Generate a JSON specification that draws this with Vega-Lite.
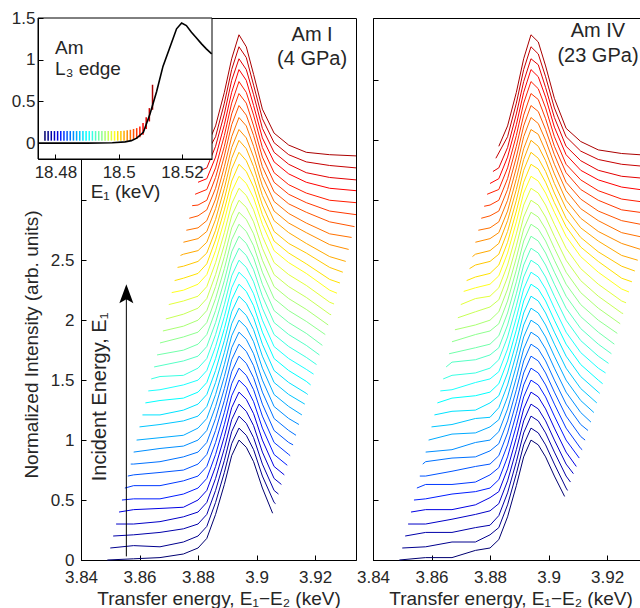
{
"$schema":"https://vega.github.io/schema/vega-lite/v6.json",
"padding":{"left":10,"top":8,"right":0,"bottom":0},
"spacing":-4,
"config":{"font":"Liberation Sans","view":{"stroke":"black","strokeWidth":1},
"axis":{"grid":false,"domainColor":"black","tickColor":"black","labelColor":"#262626","titleColor":"#262626","labelFontSize":17,"titleFontSize":19,"titleFontWeight":"normal","tickSize":-5,"labelFlush":false,"labelOverlap":false,"labelFont":"Liberation Sans","titleFont":"Liberation Sans"},
"text":{"font":"Liberation Sans","color":"#262626"}},
"datasets":{
"L":[
{"i":0,"x":3.849,"y":0},{"i":0,"x":3.858,"y":0.01},{"i":0,"x":3.867,"y":0.02},{"i":0,"x":3.875,"y":0.05},{"i":0,"x":3.88,"y":0.1},{"i":0,"x":3.883,"y":0.18},{"i":0,"x":3.886,"y":0.38},{"i":0,"x":3.889,"y":0.63},{"i":0,"x":3.8915,"y":0.87},{"i":0,"x":3.894,"y":1},{"i":0,"x":3.8965,"y":0.94},{"i":0,"x":3.899,"y":0.82},{"i":0,"x":3.902,"y":0.6},{"i":0,"x":3.9055,"y":0.39},
{"i":1,"x":3.85,"y":0.1},{"i":1,"x":3.858,"y":0.12},{"i":1,"x":3.867,"y":0.11},{"i":1,"x":3.875,"y":0.15},{"i":1,"x":3.88,"y":0.2},{"i":1,"x":3.883,"y":0.28},{"i":1,"x":3.886,"y":0.48},{"i":1,"x":3.889,"y":0.73},{"i":1,"x":3.8915,"y":0.97},{"i":1,"x":3.894,"y":1.1},{"i":1,"x":3.8965,"y":1.04},{"i":1,"x":3.899,"y":0.92},{"i":1,"x":3.902,"y":0.7},{"i":1,"x":3.906,"y":0.48},{"i":1,"x":3.9065,"y":0.47},
{"i":2,"x":3.851,"y":0.2},{"i":2,"x":3.858,"y":0.21},{"i":2,"x":3.867,"y":0.23},{"i":2,"x":3.875,"y":0.26},{"i":2,"x":3.88,"y":0.3},{"i":2,"x":3.883,"y":0.38},{"i":2,"x":3.886,"y":0.58},{"i":2,"x":3.889,"y":0.83},{"i":2,"x":3.8915,"y":1.07},{"i":2,"x":3.894,"y":1.2},{"i":2,"x":3.8965,"y":1.14},{"i":2,"x":3.899,"y":1.02},{"i":2,"x":3.902,"y":0.8},{"i":2,"x":3.906,"y":0.58},{"i":2,"x":3.9075,"y":0.55},
{"i":3,"x":3.852,"y":0.3},{"i":3,"x":3.858,"y":0.3},{"i":3,"x":3.867,"y":0.32},{"i":3,"x":3.875,"y":0.36},{"i":3,"x":3.88,"y":0.4},{"i":3,"x":3.883,"y":0.48},{"i":3,"x":3.886,"y":0.68},{"i":3,"x":3.889,"y":0.93},{"i":3,"x":3.8915,"y":1.17},{"i":3,"x":3.894,"y":1.3},{"i":3,"x":3.8965,"y":1.24},{"i":3,"x":3.899,"y":1.12},{"i":3,"x":3.902,"y":0.9},{"i":3,"x":3.906,"y":0.68},{"i":3,"x":3.9085,"y":0.63},
{"i":4,"x":3.853,"y":0.4},{"i":4,"x":3.858,"y":0.42},{"i":4,"x":3.867,"y":0.43},{"i":4,"x":3.875,"y":0.44},{"i":4,"x":3.88,"y":0.5},{"i":4,"x":3.883,"y":0.58},{"i":4,"x":3.886,"y":0.78},{"i":4,"x":3.889,"y":1.03},{"i":4,"x":3.8915,"y":1.27},{"i":4,"x":3.894,"y":1.4},{"i":4,"x":3.8965,"y":1.34},{"i":4,"x":3.899,"y":1.22},{"i":4,"x":3.902,"y":1},{"i":4,"x":3.906,"y":0.78},{"i":4,"x":3.9095,"y":0.71},
{"i":5,"x":3.854,"y":0.5},{"i":5,"x":3.858,"y":0.51},{"i":5,"x":3.867,"y":0.51},{"i":5,"x":3.875,"y":0.55},{"i":5,"x":3.88,"y":0.6},{"i":5,"x":3.883,"y":0.68},{"i":5,"x":3.886,"y":0.88},{"i":5,"x":3.889,"y":1.13},{"i":5,"x":3.8915,"y":1.37},{"i":5,"x":3.894,"y":1.5},{"i":5,"x":3.8965,"y":1.44},{"i":5,"x":3.899,"y":1.32},{"i":5,"x":3.902,"y":1.1},{"i":5,"x":3.906,"y":0.88},{"i":5,"x":3.9105,"y":0.79},
{"i":6,"x":3.855,"y":0.6},{"i":6,"x":3.858,"y":0.62},{"i":6,"x":3.867,"y":0.62},{"i":6,"x":3.875,"y":0.66},{"i":6,"x":3.88,"y":0.7},{"i":6,"x":3.883,"y":0.78},{"i":6,"x":3.886,"y":0.98},{"i":6,"x":3.889,"y":1.23},{"i":6,"x":3.8915,"y":1.47},{"i":6,"x":3.894,"y":1.6},{"i":6,"x":3.8965,"y":1.54},{"i":6,"x":3.899,"y":1.42},{"i":6,"x":3.902,"y":1.2},{"i":6,"x":3.906,"y":0.98},{"i":6,"x":3.911,"y":0.88},{"i":6,"x":3.9115,"y":0.87},
{"i":7,"x":3.856,"y":0.7},{"i":7,"x":3.858,"y":0.71},{"i":7,"x":3.867,"y":0.73},{"i":7,"x":3.875,"y":0.75},{"i":7,"x":3.88,"y":0.8},{"i":7,"x":3.883,"y":0.88},{"i":7,"x":3.886,"y":1.08},{"i":7,"x":3.889,"y":1.33},{"i":7,"x":3.8915,"y":1.57},{"i":7,"x":3.894,"y":1.7},{"i":7,"x":3.8965,"y":1.64},{"i":7,"x":3.899,"y":1.52},{"i":7,"x":3.902,"y":1.3},{"i":7,"x":3.906,"y":1.08},{"i":7,"x":3.911,"y":0.98},{"i":7,"x":3.9125,"y":0.96},
{"i":8,"x":3.857,"y":0.8},{"i":8,"x":3.858,"y":0.8},{"i":8,"x":3.867,"y":0.82},{"i":8,"x":3.875,"y":0.86},{"i":8,"x":3.88,"y":0.9},{"i":8,"x":3.883,"y":0.98},{"i":8,"x":3.886,"y":1.18},{"i":8,"x":3.889,"y":1.43},{"i":8,"x":3.8915,"y":1.67},{"i":8,"x":3.894,"y":1.8},{"i":8,"x":3.8965,"y":1.74},{"i":8,"x":3.899,"y":1.62},{"i":8,"x":3.902,"y":1.4},{"i":8,"x":3.906,"y":1.18},{"i":8,"x":3.911,"y":1.08},{"i":8,"x":3.9135,"y":1.04},
{"i":9,"x":3.858,"y":0.9},{"i":9,"x":3.867,"y":0.93},{"i":9,"x":3.875,"y":0.95},{"i":9,"x":3.88,"y":1},{"i":9,"x":3.883,"y":1.08},{"i":9,"x":3.886,"y":1.28},{"i":9,"x":3.889,"y":1.53},{"i":9,"x":3.8915,"y":1.77},{"i":9,"x":3.894,"y":1.9},{"i":9,"x":3.8965,"y":1.84},{"i":9,"x":3.899,"y":1.72},{"i":9,"x":3.902,"y":1.5},{"i":9,"x":3.906,"y":1.28},{"i":9,"x":3.911,"y":1.18},{"i":9,"x":3.9145,"y":1.13},
{"i":10,"x":3.859,"y":1},{"i":10,"x":3.867,"y":1.02},{"i":10,"x":3.875,"y":1.04},{"i":10,"x":3.88,"y":1.1},{"i":10,"x":3.883,"y":1.18},{"i":10,"x":3.886,"y":1.38},{"i":10,"x":3.889,"y":1.63},{"i":10,"x":3.8915,"y":1.87},{"i":10,"x":3.894,"y":2},{"i":10,"x":3.8965,"y":1.94},{"i":10,"x":3.899,"y":1.82},{"i":10,"x":3.902,"y":1.6},{"i":10,"x":3.906,"y":1.38},{"i":10,"x":3.911,"y":1.28},{"i":10,"x":3.9155,"y":1.21},
{"i":11,"x":3.86,"y":1.11},{"i":11,"x":3.867,"y":1.13},{"i":11,"x":3.875,"y":1.16},{"i":11,"x":3.88,"y":1.2},{"i":11,"x":3.883,"y":1.28},{"i":11,"x":3.886,"y":1.48},{"i":11,"x":3.889,"y":1.73},{"i":11,"x":3.8915,"y":1.97},{"i":11,"x":3.894,"y":2.1},{"i":11,"x":3.8965,"y":2.04},{"i":11,"x":3.899,"y":1.92},{"i":11,"x":3.902,"y":1.7},{"i":11,"x":3.906,"y":1.48},{"i":11,"x":3.911,"y":1.38},{"i":11,"x":3.9165,"y":1.3},
{"i":12,"x":3.861,"y":1.21},{"i":12,"x":3.867,"y":1.21},{"i":12,"x":3.875,"y":1.25},{"i":12,"x":3.88,"y":1.3},{"i":12,"x":3.883,"y":1.38},{"i":12,"x":3.886,"y":1.58},{"i":12,"x":3.889,"y":1.83},{"i":12,"x":3.8915,"y":2.07},{"i":12,"x":3.894,"y":2.2},{"i":12,"x":3.8965,"y":2.14},{"i":12,"x":3.899,"y":2.02},{"i":12,"x":3.902,"y":1.8},{"i":12,"x":3.906,"y":1.58},{"i":12,"x":3.911,"y":1.48},{"i":12,"x":3.917,"y":1.39},{"i":12,"x":3.9175,"y":1.38},
{"i":13,"x":3.862,"y":1.31},{"i":13,"x":3.867,"y":1.33},{"i":13,"x":3.875,"y":1.35},{"i":13,"x":3.88,"y":1.4},{"i":13,"x":3.883,"y":1.48},{"i":13,"x":3.886,"y":1.68},{"i":13,"x":3.889,"y":1.93},{"i":13,"x":3.8915,"y":2.17},{"i":13,"x":3.894,"y":2.3},{"i":13,"x":3.8965,"y":2.24},{"i":13,"x":3.899,"y":2.12},{"i":13,"x":3.902,"y":1.9},{"i":13,"x":3.906,"y":1.68},{"i":13,"x":3.911,"y":1.58},{"i":13,"x":3.917,"y":1.49},{"i":13,"x":3.9185,"y":1.46},
{"i":14,"x":3.863,"y":1.41},{"i":14,"x":3.867,"y":1.42},{"i":14,"x":3.875,"y":1.46},{"i":14,"x":3.88,"y":1.5},{"i":14,"x":3.883,"y":1.58},{"i":14,"x":3.886,"y":1.78},{"i":14,"x":3.889,"y":2.03},{"i":14,"x":3.8915,"y":2.27},{"i":14,"x":3.894,"y":2.4},{"i":14,"x":3.8965,"y":2.34},{"i":14,"x":3.899,"y":2.22},{"i":14,"x":3.902,"y":2},{"i":14,"x":3.906,"y":1.78},{"i":14,"x":3.911,"y":1.68},{"i":14,"x":3.917,"y":1.59},{"i":14,"x":3.9195,"y":1.55},
{"i":15,"x":3.864,"y":1.51},{"i":15,"x":3.867,"y":1.53},{"i":15,"x":3.875,"y":1.54},{"i":15,"x":3.88,"y":1.6},{"i":15,"x":3.883,"y":1.68},{"i":15,"x":3.886,"y":1.88},{"i":15,"x":3.889,"y":2.13},{"i":15,"x":3.8915,"y":2.37},{"i":15,"x":3.894,"y":2.5},{"i":15,"x":3.8965,"y":2.44},{"i":15,"x":3.899,"y":2.32},{"i":15,"x":3.902,"y":2.1},{"i":15,"x":3.906,"y":1.88},{"i":15,"x":3.911,"y":1.78},{"i":15,"x":3.917,"y":1.69},{"i":15,"x":3.9205,"y":1.63},
{"i":16,"x":3.865,"y":1.61},{"i":16,"x":3.867,"y":1.62},{"i":16,"x":3.875,"y":1.66},{"i":16,"x":3.88,"y":1.7},{"i":16,"x":3.883,"y":1.78},{"i":16,"x":3.886,"y":1.98},{"i":16,"x":3.889,"y":2.23},{"i":16,"x":3.8915,"y":2.47},{"i":16,"x":3.894,"y":2.6},{"i":16,"x":3.8965,"y":2.54},{"i":16,"x":3.899,"y":2.42},{"i":16,"x":3.902,"y":2.2},{"i":16,"x":3.906,"y":1.98},{"i":16,"x":3.911,"y":1.88},{"i":16,"x":3.917,"y":1.79},{"i":16,"x":3.9215,"y":1.71},
{"i":17,"x":3.866,"y":1.71},{"i":17,"x":3.875,"y":1.75},{"i":17,"x":3.88,"y":1.8},{"i":17,"x":3.883,"y":1.88},{"i":17,"x":3.886,"y":2.08},{"i":17,"x":3.889,"y":2.33},{"i":17,"x":3.8915,"y":2.57},{"i":17,"x":3.894,"y":2.7},{"i":17,"x":3.8965,"y":2.64},{"i":17,"x":3.899,"y":2.52},{"i":17,"x":3.902,"y":2.3},{"i":17,"x":3.906,"y":2.08},{"i":17,"x":3.911,"y":1.98},{"i":17,"x":3.917,"y":1.89},{"i":17,"x":3.9225,"y":1.79},
{"i":18,"x":3.867,"y":1.81},{"i":18,"x":3.875,"y":1.86},{"i":18,"x":3.88,"y":1.9},{"i":18,"x":3.883,"y":1.98},{"i":18,"x":3.886,"y":2.18},{"i":18,"x":3.889,"y":2.43},{"i":18,"x":3.8915,"y":2.67},{"i":18,"x":3.894,"y":2.8},{"i":18,"x":3.8965,"y":2.74},{"i":18,"x":3.899,"y":2.62},{"i":18,"x":3.902,"y":2.4},{"i":18,"x":3.906,"y":2.18},{"i":18,"x":3.911,"y":2.08},{"i":18,"x":3.917,"y":1.99},{"i":18,"x":3.9235,"y":1.88},
{"i":19,"x":3.868,"y":1.91},{"i":19,"x":3.875,"y":1.95},{"i":19,"x":3.88,"y":2},{"i":19,"x":3.883,"y":2.08},{"i":19,"x":3.886,"y":2.28},{"i":19,"x":3.889,"y":2.53},{"i":19,"x":3.8915,"y":2.77},{"i":19,"x":3.894,"y":2.9},{"i":19,"x":3.8965,"y":2.84},{"i":19,"x":3.899,"y":2.72},{"i":19,"x":3.902,"y":2.5},{"i":19,"x":3.906,"y":2.28},{"i":19,"x":3.911,"y":2.18},{"i":19,"x":3.917,"y":2.09},{"i":19,"x":3.9245,"y":1.96},
{"i":20,"x":3.869,"y":2.01},{"i":20,"x":3.875,"y":2.05},{"i":20,"x":3.88,"y":2.1},{"i":20,"x":3.883,"y":2.18},{"i":20,"x":3.886,"y":2.38},{"i":20,"x":3.889,"y":2.63},{"i":20,"x":3.8915,"y":2.87},{"i":20,"x":3.894,"y":3},{"i":20,"x":3.8965,"y":2.94},{"i":20,"x":3.899,"y":2.82},{"i":20,"x":3.902,"y":2.6},{"i":20,"x":3.906,"y":2.38},{"i":20,"x":3.911,"y":2.28},{"i":20,"x":3.917,"y":2.19},{"i":20,"x":3.925,"y":2.05},{"i":20,"x":3.9255,"y":2.045},
{"i":21,"x":3.87,"y":2.13},{"i":21,"x":3.875,"y":2.16},{"i":21,"x":3.88,"y":2.2},{"i":21,"x":3.883,"y":2.28},{"i":21,"x":3.886,"y":2.48},{"i":21,"x":3.889,"y":2.73},{"i":21,"x":3.8915,"y":2.97},{"i":21,"x":3.894,"y":3.1},{"i":21,"x":3.8965,"y":3.04},{"i":21,"x":3.899,"y":2.92},{"i":21,"x":3.902,"y":2.7},{"i":21,"x":3.906,"y":2.48},{"i":21,"x":3.911,"y":2.38},{"i":21,"x":3.917,"y":2.29},{"i":21,"x":3.925,"y":2.15},{"i":21,"x":3.9265,"y":2.135},
{"i":22,"x":3.871,"y":2.23},{"i":22,"x":3.875,"y":2.25},{"i":22,"x":3.88,"y":2.3},{"i":22,"x":3.883,"y":2.38},{"i":22,"x":3.886,"y":2.58},{"i":22,"x":3.889,"y":2.83},{"i":22,"x":3.8915,"y":3.07},{"i":22,"x":3.894,"y":3.2},{"i":22,"x":3.8965,"y":3.14},{"i":22,"x":3.899,"y":3.02},{"i":22,"x":3.902,"y":2.8},{"i":22,"x":3.906,"y":2.58},{"i":22,"x":3.911,"y":2.48},{"i":22,"x":3.917,"y":2.39},{"i":22,"x":3.925,"y":2.25},{"i":22,"x":3.9275,"y":2.225},
{"i":23,"x":3.872,"y":2.33},{"i":23,"x":3.875,"y":2.35},{"i":23,"x":3.88,"y":2.39},{"i":23,"x":3.883,"y":2.47},{"i":23,"x":3.886,"y":2.67},{"i":23,"x":3.889,"y":2.92},{"i":23,"x":3.8915,"y":3.16},{"i":23,"x":3.894,"y":3.3},{"i":23,"x":3.8965,"y":3.24},{"i":23,"x":3.899,"y":3.11},{"i":23,"x":3.902,"y":2.88},{"i":23,"x":3.906,"y":2.66},{"i":23,"x":3.911,"y":2.56},{"i":23,"x":3.917,"y":2.47},{"i":23,"x":3.925,"y":2.34},{"i":23,"x":3.9285,"y":2.31},
{"i":24,"x":3.873,"y":2.44},{"i":24,"x":3.875,"y":2.45},{"i":24,"x":3.88,"y":2.49},{"i":24,"x":3.883,"y":2.56},{"i":24,"x":3.886,"y":2.75},{"i":24,"x":3.889,"y":3.01},{"i":24,"x":3.8915,"y":3.26},{"i":24,"x":3.894,"y":3.4},{"i":24,"x":3.8965,"y":3.33},{"i":24,"x":3.899,"y":3.19},{"i":24,"x":3.902,"y":2.96},{"i":24,"x":3.906,"y":2.74},{"i":24,"x":3.911,"y":2.64},{"i":24,"x":3.917,"y":2.56},{"i":24,"x":3.925,"y":2.44},{"i":24,"x":3.9295,"y":2.4},
{"i":25,"x":3.874,"y":2.54},{"i":25,"x":3.875,"y":2.55},{"i":25,"x":3.88,"y":2.58},{"i":25,"x":3.883,"y":2.65},{"i":25,"x":3.886,"y":2.84},{"i":25,"x":3.889,"y":3.1},{"i":25,"x":3.8915,"y":3.35},{"i":25,"x":3.894,"y":3.5},{"i":25,"x":3.8965,"y":3.43},{"i":25,"x":3.899,"y":3.28},{"i":25,"x":3.902,"y":3.04},{"i":25,"x":3.906,"y":2.83},{"i":25,"x":3.911,"y":2.73},{"i":25,"x":3.917,"y":2.64},{"i":25,"x":3.925,"y":2.53},{"i":25,"x":3.9305,"y":2.49},
{"i":26,"x":3.875,"y":2.65},{"i":26,"x":3.88,"y":2.68},{"i":26,"x":3.883,"y":2.74},{"i":26,"x":3.886,"y":2.93},{"i":26,"x":3.889,"y":3.19},{"i":26,"x":3.8915,"y":3.44},{"i":26,"x":3.894,"y":3.59},{"i":26,"x":3.8965,"y":3.52},{"i":26,"x":3.899,"y":3.36},{"i":26,"x":3.902,"y":3.12},{"i":26,"x":3.906,"y":2.91},{"i":26,"x":3.911,"y":2.81},{"i":26,"x":3.917,"y":2.73},{"i":26,"x":3.925,"y":2.63},{"i":26,"x":3.9315,"y":2.59},
{"i":27,"x":3.876,"y":2.75},{"i":27,"x":3.88,"y":2.77},{"i":27,"x":3.883,"y":2.83},{"i":27,"x":3.886,"y":3.01},{"i":27,"x":3.889,"y":3.28},{"i":27,"x":3.8915,"y":3.53},{"i":27,"x":3.894,"y":3.69},{"i":27,"x":3.8965,"y":3.62},{"i":27,"x":3.899,"y":3.45},{"i":27,"x":3.902,"y":3.2},{"i":27,"x":3.906,"y":2.99},{"i":27,"x":3.911,"y":2.89},{"i":27,"x":3.917,"y":2.81},{"i":27,"x":3.925,"y":2.72},{"i":27,"x":3.9325,"y":2.69},
{"i":28,"x":3.877,"y":2.85},{"i":28,"x":3.88,"y":2.87},{"i":28,"x":3.883,"y":2.92},{"i":28,"x":3.886,"y":3.1},{"i":28,"x":3.889,"y":3.37},{"i":28,"x":3.8915,"y":3.63},{"i":28,"x":3.894,"y":3.79},{"i":28,"x":3.8965,"y":3.71},{"i":28,"x":3.899,"y":3.54},{"i":28,"x":3.902,"y":3.28},{"i":28,"x":3.906,"y":3.07},{"i":28,"x":3.911,"y":2.97},{"i":28,"x":3.917,"y":2.9},{"i":28,"x":3.925,"y":2.82},{"i":28,"x":3.9335,"y":2.78},
{"i":29,"x":3.878,"y":2.955},{"i":29,"x":3.88,"y":2.96},{"i":29,"x":3.883,"y":3},{"i":29,"x":3.886,"y":3.19},{"i":29,"x":3.889,"y":3.45},{"i":29,"x":3.8915,"y":3.72},{"i":29,"x":3.894,"y":3.89},{"i":29,"x":3.8965,"y":3.81},{"i":29,"x":3.899,"y":3.62},{"i":29,"x":3.902,"y":3.36},{"i":29,"x":3.906,"y":3.15},{"i":29,"x":3.911,"y":3.05},{"i":29,"x":3.917,"y":2.98},{"i":29,"x":3.925,"y":2.91},{"i":29,"x":3.934,"y":2.88},
{"i":30,"x":3.879,"y":3.05},{"i":30,"x":3.883,"y":3.09},{"i":30,"x":3.886,"y":3.27},{"i":30,"x":3.889,"y":3.54},{"i":30,"x":3.8915,"y":3.81},{"i":30,"x":3.894,"y":3.99},{"i":30,"x":3.8965,"y":3.9},{"i":30,"x":3.899,"y":3.71},{"i":30,"x":3.902,"y":3.44},{"i":30,"x":3.906,"y":3.23},{"i":30,"x":3.911,"y":3.13},{"i":30,"x":3.917,"y":3.06},{"i":30,"x":3.925,"y":3},{"i":30,"x":3.934,"y":2.98},
{"i":31,"x":3.88,"y":3.15},{"i":31,"x":3.883,"y":3.18},{"i":31,"x":3.886,"y":3.36},{"i":31,"x":3.889,"y":3.63},{"i":31,"x":3.8915,"y":3.9},{"i":31,"x":3.894,"y":4.09},{"i":31,"x":3.8965,"y":4},{"i":31,"x":3.899,"y":3.79},{"i":31,"x":3.902,"y":3.52},{"i":31,"x":3.906,"y":3.32},{"i":31,"x":3.911,"y":3.22},{"i":31,"x":3.917,"y":3.15},{"i":31,"x":3.925,"y":3.1},{"i":31,"x":3.934,"y":3.08},
{"i":32,"x":3.881,"y":3.25},{"i":32,"x":3.883,"y":3.27},{"i":32,"x":3.886,"y":3.45},{"i":32,"x":3.889,"y":3.72},{"i":32,"x":3.8915,"y":4},{"i":32,"x":3.894,"y":4.18},{"i":32,"x":3.8965,"y":4.09},{"i":32,"x":3.899,"y":3.88},{"i":32,"x":3.902,"y":3.6},{"i":32,"x":3.906,"y":3.4},{"i":32,"x":3.911,"y":3.3},{"i":32,"x":3.917,"y":3.23},{"i":32,"x":3.925,"y":3.19},{"i":32,"x":3.934,"y":3.17},
{"i":33,"x":3.882,"y":3.35},{"i":33,"x":3.886,"y":3.53},{"i":33,"x":3.889,"y":3.81},{"i":33,"x":3.8915,"y":4.09},{"i":33,"x":3.894,"y":4.28},{"i":33,"x":3.8965,"y":4.19},{"i":33,"x":3.899,"y":3.96},{"i":33,"x":3.902,"y":3.68},{"i":33,"x":3.906,"y":3.48},{"i":33,"x":3.911,"y":3.38},{"i":33,"x":3.917,"y":3.32},{"i":33,"x":3.925,"y":3.29},{"i":33,"x":3.934,"y":3.27},
{"i":34,"x":3.883,"y":3.45},{"i":34,"x":3.886,"y":3.62},{"i":34,"x":3.889,"y":3.9},{"i":34,"x":3.8915,"y":4.18},{"i":34,"x":3.894,"y":4.38},{"i":34,"x":3.8965,"y":4.28},{"i":34,"x":3.899,"y":4.05},{"i":34,"x":3.902,"y":3.76},{"i":34,"x":3.906,"y":3.56},{"i":34,"x":3.911,"y":3.46},{"i":34,"x":3.917,"y":3.4},{"i":34,"x":3.925,"y":3.38},{"i":34,"x":3.934,"y":3.37}
],
"R":[
{"i":0,"x":3.849,"y":0},{"i":0,"x":3.858,"y":0.02},{"i":0,"x":3.867,"y":0.02},{"i":0,"x":3.875,"y":0.08},{"i":0,"x":3.88,"y":0.1},{"i":0,"x":3.883,"y":0.17},{"i":0,"x":3.886,"y":0.36},{"i":0,"x":3.889,"y":0.62},{"i":0,"x":3.8915,"y":0.86},{"i":0,"x":3.894,"y":1},{"i":0,"x":3.8965,"y":0.96},{"i":0,"x":3.899,"y":0.86},{"i":0,"x":3.902,"y":0.7},{"i":0,"x":3.9055,"y":0.53},
{"i":1,"x":3.85,"y":0.1},{"i":1,"x":3.858,"y":0.11},{"i":1,"x":3.867,"y":0.15},{"i":1,"x":3.875,"y":0.15},{"i":1,"x":3.88,"y":0.21},{"i":1,"x":3.883,"y":0.27},{"i":1,"x":3.886,"y":0.46},{"i":1,"x":3.889,"y":0.72},{"i":1,"x":3.8915,"y":0.96},{"i":1,"x":3.894,"y":1.1},{"i":1,"x":3.8965,"y":1.06},{"i":1,"x":3.899,"y":0.96},{"i":1,"x":3.902,"y":0.8},{"i":1,"x":3.906,"y":0.6},{"i":1,"x":3.9065,"y":0.58},
{"i":2,"x":3.851,"y":0.2},{"i":2,"x":3.858,"y":0.23},{"i":2,"x":3.867,"y":0.23},{"i":2,"x":3.875,"y":0.27},{"i":2,"x":3.88,"y":0.29},{"i":2,"x":3.883,"y":0.37},{"i":2,"x":3.886,"y":0.56},{"i":2,"x":3.889,"y":0.82},{"i":2,"x":3.8915,"y":1.06},{"i":2,"x":3.894,"y":1.2},{"i":2,"x":3.8965,"y":1.16},{"i":2,"x":3.899,"y":1.06},{"i":2,"x":3.902,"y":0.9},{"i":2,"x":3.906,"y":0.7},{"i":2,"x":3.9075,"y":0.65},
{"i":3,"x":3.852,"y":0.3},{"i":3,"x":3.858,"y":0.3},{"i":3,"x":3.867,"y":0.34},{"i":3,"x":3.875,"y":0.38},{"i":3,"x":3.88,"y":0.41},{"i":3,"x":3.883,"y":0.47},{"i":3,"x":3.886,"y":0.66},{"i":3,"x":3.889,"y":0.92},{"i":3,"x":3.8915,"y":1.16},{"i":3,"x":3.894,"y":1.3},{"i":3,"x":3.8965,"y":1.26},{"i":3,"x":3.899,"y":1.16},{"i":3,"x":3.902,"y":1},{"i":3,"x":3.906,"y":0.8},{"i":3,"x":3.9085,"y":0.72},
{"i":4,"x":3.853,"y":0.4},{"i":4,"x":3.858,"y":0.42},{"i":4,"x":3.867,"y":0.42},{"i":4,"x":3.875,"y":0.46},{"i":4,"x":3.88,"y":0.52},{"i":4,"x":3.883,"y":0.57},{"i":4,"x":3.886,"y":0.76},{"i":4,"x":3.889,"y":1.02},{"i":4,"x":3.8915,"y":1.26},{"i":4,"x":3.894,"y":1.4},{"i":4,"x":3.8965,"y":1.36},{"i":4,"x":3.899,"y":1.26},{"i":4,"x":3.902,"y":1.1},{"i":4,"x":3.906,"y":0.9},{"i":4,"x":3.9095,"y":0.78},
{"i":5,"x":3.854,"y":0.5},{"i":5,"x":3.858,"y":0.51},{"i":5,"x":3.867,"y":0.55},{"i":5,"x":3.875,"y":0.57},{"i":5,"x":3.88,"y":0.6},{"i":5,"x":3.883,"y":0.67},{"i":5,"x":3.886,"y":0.86},{"i":5,"x":3.889,"y":1.12},{"i":5,"x":3.8915,"y":1.36},{"i":5,"x":3.894,"y":1.5},{"i":5,"x":3.8965,"y":1.46},{"i":5,"x":3.899,"y":1.36},{"i":5,"x":3.902,"y":1.2},{"i":5,"x":3.906,"y":1},{"i":5,"x":3.9105,"y":0.85},
{"i":6,"x":3.855,"y":0.6},{"i":6,"x":3.858,"y":0.63},{"i":6,"x":3.867,"y":0.63},{"i":6,"x":3.875,"y":0.65},{"i":6,"x":3.88,"y":0.71},{"i":6,"x":3.883,"y":0.77},{"i":6,"x":3.886,"y":0.96},{"i":6,"x":3.889,"y":1.22},{"i":6,"x":3.8915,"y":1.46},{"i":6,"x":3.894,"y":1.6},{"i":6,"x":3.8965,"y":1.56},{"i":6,"x":3.899,"y":1.46},{"i":6,"x":3.902,"y":1.3},{"i":6,"x":3.906,"y":1.1},{"i":6,"x":3.911,"y":0.93},{"i":6,"x":3.9115,"y":0.92},
{"i":7,"x":3.856,"y":0.7},{"i":7,"x":3.858,"y":0.7},{"i":7,"x":3.867,"y":0.74},{"i":7,"x":3.875,"y":0.78},{"i":7,"x":3.88,"y":0.8},{"i":7,"x":3.883,"y":0.87},{"i":7,"x":3.886,"y":1.06},{"i":7,"x":3.889,"y":1.32},{"i":7,"x":3.8915,"y":1.56},{"i":7,"x":3.894,"y":1.7},{"i":7,"x":3.8965,"y":1.66},{"i":7,"x":3.899,"y":1.56},{"i":7,"x":3.902,"y":1.4},{"i":7,"x":3.906,"y":1.2},{"i":7,"x":3.911,"y":1.03},{"i":7,"x":3.9125,"y":1},
{"i":8,"x":3.857,"y":0.8},{"i":8,"x":3.858,"y":0.82},{"i":8,"x":3.867,"y":0.85},{"i":8,"x":3.875,"y":0.86},{"i":8,"x":3.88,"y":0.91},{"i":8,"x":3.883,"y":0.97},{"i":8,"x":3.886,"y":1.16},{"i":8,"x":3.889,"y":1.42},{"i":8,"x":3.8915,"y":1.66},{"i":8,"x":3.894,"y":1.8},{"i":8,"x":3.8965,"y":1.76},{"i":8,"x":3.899,"y":1.66},{"i":8,"x":3.902,"y":1.5},{"i":8,"x":3.906,"y":1.3},{"i":8,"x":3.911,"y":1.13},{"i":8,"x":3.9135,"y":1.08},
{"i":9,"x":3.858,"y":0.9},{"i":9,"x":3.867,"y":0.92},{"i":9,"x":3.875,"y":0.98},{"i":9,"x":3.88,"y":1},{"i":9,"x":3.883,"y":1.07},{"i":9,"x":3.886,"y":1.26},{"i":9,"x":3.889,"y":1.52},{"i":9,"x":3.8915,"y":1.76},{"i":9,"x":3.894,"y":1.9},{"i":9,"x":3.8965,"y":1.86},{"i":9,"x":3.899,"y":1.76},{"i":9,"x":3.902,"y":1.6},{"i":9,"x":3.906,"y":1.4},{"i":9,"x":3.911,"y":1.23},{"i":9,"x":3.9145,"y":1.15},
{"i":10,"x":3.859,"y":1},{"i":10,"x":3.867,"y":1.05},{"i":10,"x":3.875,"y":1.06},{"i":10,"x":3.88,"y":1.11},{"i":10,"x":3.883,"y":1.17},{"i":10,"x":3.886,"y":1.36},{"i":10,"x":3.889,"y":1.62},{"i":10,"x":3.8915,"y":1.86},{"i":10,"x":3.894,"y":2},{"i":10,"x":3.8965,"y":1.96},{"i":10,"x":3.899,"y":1.86},{"i":10,"x":3.902,"y":1.7},{"i":10,"x":3.906,"y":1.5},{"i":10,"x":3.911,"y":1.33},{"i":10,"x":3.9155,"y":1.23},
{"i":11,"x":3.86,"y":1.11},{"i":11,"x":3.867,"y":1.13},{"i":11,"x":3.875,"y":1.18},{"i":11,"x":3.88,"y":1.19},{"i":11,"x":3.883,"y":1.27},{"i":11,"x":3.886,"y":1.46},{"i":11,"x":3.889,"y":1.72},{"i":11,"x":3.8915,"y":1.96},{"i":11,"x":3.894,"y":2.1},{"i":11,"x":3.8965,"y":2.06},{"i":11,"x":3.899,"y":1.96},{"i":11,"x":3.902,"y":1.8},{"i":11,"x":3.906,"y":1.6},{"i":11,"x":3.911,"y":1.43},{"i":11,"x":3.9165,"y":1.31},
{"i":12,"x":3.861,"y":1.21},{"i":12,"x":3.867,"y":1.24},{"i":12,"x":3.875,"y":1.25},{"i":12,"x":3.88,"y":1.31},{"i":12,"x":3.883,"y":1.37},{"i":12,"x":3.886,"y":1.56},{"i":12,"x":3.889,"y":1.82},{"i":12,"x":3.8915,"y":2.06},{"i":12,"x":3.894,"y":2.2},{"i":12,"x":3.8965,"y":2.16},{"i":12,"x":3.899,"y":2.06},{"i":12,"x":3.902,"y":1.9},{"i":12,"x":3.906,"y":1.7},{"i":12,"x":3.911,"y":1.53},{"i":12,"x":3.917,"y":1.4},{"i":12,"x":3.9175,"y":1.39},
{"i":13,"x":3.862,"y":1.31},{"i":13,"x":3.867,"y":1.35},{"i":13,"x":3.875,"y":1.37},{"i":13,"x":3.88,"y":1.4},{"i":13,"x":3.883,"y":1.47},{"i":13,"x":3.886,"y":1.66},{"i":13,"x":3.889,"y":1.92},{"i":13,"x":3.8915,"y":2.16},{"i":13,"x":3.894,"y":2.3},{"i":13,"x":3.8965,"y":2.26},{"i":13,"x":3.899,"y":2.16},{"i":13,"x":3.902,"y":2},{"i":13,"x":3.906,"y":1.8},{"i":13,"x":3.911,"y":1.63},{"i":13,"x":3.917,"y":1.5},{"i":13,"x":3.9185,"y":1.47},
{"i":14,"x":3.863,"y":1.41},{"i":14,"x":3.867,"y":1.42},{"i":14,"x":3.875,"y":1.48},{"i":14,"x":3.88,"y":1.51},{"i":14,"x":3.883,"y":1.57},{"i":14,"x":3.886,"y":1.76},{"i":14,"x":3.889,"y":2.02},{"i":14,"x":3.8915,"y":2.26},{"i":14,"x":3.894,"y":2.4},{"i":14,"x":3.8965,"y":2.36},{"i":14,"x":3.899,"y":2.26},{"i":14,"x":3.902,"y":2.1},{"i":14,"x":3.906,"y":1.9},{"i":14,"x":3.911,"y":1.73},{"i":14,"x":3.917,"y":1.6},{"i":14,"x":3.9195,"y":1.56},
{"i":15,"x":3.864,"y":1.51},{"i":15,"x":3.867,"y":1.54},{"i":15,"x":3.875,"y":1.56},{"i":15,"x":3.88,"y":1.6},{"i":15,"x":3.883,"y":1.67},{"i":15,"x":3.886,"y":1.86},{"i":15,"x":3.889,"y":2.12},{"i":15,"x":3.8915,"y":2.36},{"i":15,"x":3.894,"y":2.5},{"i":15,"x":3.8965,"y":2.46},{"i":15,"x":3.899,"y":2.36},{"i":15,"x":3.902,"y":2.2},{"i":15,"x":3.906,"y":2},{"i":15,"x":3.911,"y":1.83},{"i":15,"x":3.917,"y":1.7},{"i":15,"x":3.9205,"y":1.64},
{"i":16,"x":3.865,"y":1.61},{"i":16,"x":3.867,"y":1.65},{"i":16,"x":3.875,"y":1.67},{"i":16,"x":3.88,"y":1.71},{"i":16,"x":3.883,"y":1.77},{"i":16,"x":3.886,"y":1.96},{"i":16,"x":3.889,"y":2.22},{"i":16,"x":3.8915,"y":2.46},{"i":16,"x":3.894,"y":2.6},{"i":16,"x":3.8965,"y":2.56},{"i":16,"x":3.899,"y":2.46},{"i":16,"x":3.902,"y":2.3},{"i":16,"x":3.906,"y":2.1},{"i":16,"x":3.911,"y":1.93},{"i":16,"x":3.917,"y":1.8},{"i":16,"x":3.9215,"y":1.72},
{"i":17,"x":3.866,"y":1.72},{"i":17,"x":3.875,"y":1.77},{"i":17,"x":3.88,"y":1.8},{"i":17,"x":3.883,"y":1.87},{"i":17,"x":3.886,"y":2.06},{"i":17,"x":3.889,"y":2.32},{"i":17,"x":3.8915,"y":2.56},{"i":17,"x":3.894,"y":2.7},{"i":17,"x":3.8965,"y":2.66},{"i":17,"x":3.899,"y":2.56},{"i":17,"x":3.902,"y":2.4},{"i":17,"x":3.906,"y":2.2},{"i":17,"x":3.911,"y":2.03},{"i":17,"x":3.917,"y":1.9},{"i":17,"x":3.9225,"y":1.8},
{"i":18,"x":3.867,"y":1.82},{"i":18,"x":3.875,"y":1.88},{"i":18,"x":3.88,"y":1.91},{"i":18,"x":3.883,"y":1.97},{"i":18,"x":3.886,"y":2.16},{"i":18,"x":3.889,"y":2.42},{"i":18,"x":3.8915,"y":2.66},{"i":18,"x":3.894,"y":2.8},{"i":18,"x":3.8965,"y":2.76},{"i":18,"x":3.899,"y":2.66},{"i":18,"x":3.902,"y":2.5},{"i":18,"x":3.906,"y":2.3},{"i":18,"x":3.911,"y":2.13},{"i":18,"x":3.917,"y":2},{"i":18,"x":3.9235,"y":1.89},
{"i":19,"x":3.868,"y":1.92},{"i":19,"x":3.875,"y":1.96},{"i":19,"x":3.88,"y":2},{"i":19,"x":3.883,"y":2.07},{"i":19,"x":3.886,"y":2.26},{"i":19,"x":3.889,"y":2.52},{"i":19,"x":3.8915,"y":2.76},{"i":19,"x":3.894,"y":2.9},{"i":19,"x":3.8965,"y":2.86},{"i":19,"x":3.899,"y":2.76},{"i":19,"x":3.902,"y":2.6},{"i":19,"x":3.906,"y":2.4},{"i":19,"x":3.911,"y":2.23},{"i":19,"x":3.917,"y":2.1},{"i":19,"x":3.9245,"y":1.97},
{"i":20,"x":3.869,"y":2.02},{"i":20,"x":3.875,"y":2.07},{"i":20,"x":3.88,"y":2.11},{"i":20,"x":3.883,"y":2.17},{"i":20,"x":3.886,"y":2.36},{"i":20,"x":3.889,"y":2.62},{"i":20,"x":3.8915,"y":2.86},{"i":20,"x":3.894,"y":3},{"i":20,"x":3.8965,"y":2.96},{"i":20,"x":3.899,"y":2.86},{"i":20,"x":3.902,"y":2.7},{"i":20,"x":3.906,"y":2.5},{"i":20,"x":3.911,"y":2.33},{"i":20,"x":3.917,"y":2.2},{"i":20,"x":3.925,"y":2.06},{"i":20,"x":3.9255,"y":2.055},
{"i":21,"x":3.87,"y":2.13},{"i":21,"x":3.875,"y":2.18},{"i":21,"x":3.88,"y":2.2},{"i":21,"x":3.883,"y":2.27},{"i":21,"x":3.886,"y":2.46},{"i":21,"x":3.889,"y":2.72},{"i":21,"x":3.8915,"y":2.96},{"i":21,"x":3.894,"y":3.1},{"i":21,"x":3.8965,"y":3.06},{"i":21,"x":3.899,"y":2.96},{"i":21,"x":3.902,"y":2.8},{"i":21,"x":3.906,"y":2.6},{"i":21,"x":3.911,"y":2.43},{"i":21,"x":3.917,"y":2.3},{"i":21,"x":3.925,"y":2.16},{"i":21,"x":3.9265,"y":2.145},
{"i":22,"x":3.871,"y":2.24},{"i":22,"x":3.875,"y":2.27},{"i":22,"x":3.88,"y":2.3},{"i":22,"x":3.883,"y":2.37},{"i":22,"x":3.886,"y":2.56},{"i":22,"x":3.889,"y":2.82},{"i":22,"x":3.8915,"y":3.06},{"i":22,"x":3.894,"y":3.2},{"i":22,"x":3.8965,"y":3.16},{"i":22,"x":3.899,"y":3.06},{"i":22,"x":3.902,"y":2.9},{"i":22,"x":3.906,"y":2.7},{"i":22,"x":3.911,"y":2.53},{"i":22,"x":3.917,"y":2.4},{"i":22,"x":3.925,"y":2.26},{"i":22,"x":3.9275,"y":2.235},
{"i":23,"x":3.872,"y":2.33},{"i":23,"x":3.875,"y":2.36},{"i":23,"x":3.88,"y":2.39},{"i":23,"x":3.883,"y":2.46},{"i":23,"x":3.886,"y":2.65},{"i":23,"x":3.889,"y":2.91},{"i":23,"x":3.8915,"y":3.15},{"i":23,"x":3.894,"y":3.3},{"i":23,"x":3.8965,"y":3.26},{"i":23,"x":3.899,"y":3.15},{"i":23,"x":3.902,"y":2.98},{"i":23,"x":3.906,"y":2.78},{"i":23,"x":3.911,"y":2.61},{"i":23,"x":3.917,"y":2.49},{"i":23,"x":3.925,"y":2.35},{"i":23,"x":3.9285,"y":2.32},
{"i":24,"x":3.873,"y":2.43},{"i":24,"x":3.875,"y":2.46},{"i":24,"x":3.88,"y":2.49},{"i":24,"x":3.883,"y":2.55},{"i":24,"x":3.886,"y":2.74},{"i":24,"x":3.889,"y":3},{"i":24,"x":3.8915,"y":3.25},{"i":24,"x":3.894,"y":3.4},{"i":24,"x":3.8965,"y":3.35},{"i":24,"x":3.899,"y":3.24},{"i":24,"x":3.902,"y":3.06},{"i":24,"x":3.906,"y":2.85},{"i":24,"x":3.911,"y":2.69},{"i":24,"x":3.917,"y":2.57},{"i":24,"x":3.925,"y":2.45},{"i":24,"x":3.9295,"y":2.41},
{"i":25,"x":3.874,"y":2.53},{"i":25,"x":3.875,"y":2.55},{"i":25,"x":3.88,"y":2.58},{"i":25,"x":3.883,"y":2.64},{"i":25,"x":3.886,"y":2.83},{"i":25,"x":3.889,"y":3.09},{"i":25,"x":3.8915,"y":3.34},{"i":25,"x":3.894,"y":3.5},{"i":25,"x":3.8965,"y":3.45},{"i":25,"x":3.899,"y":3.33},{"i":25,"x":3.902,"y":3.14},{"i":25,"x":3.906,"y":2.93},{"i":25,"x":3.911,"y":2.77},{"i":25,"x":3.917,"y":2.66},{"i":25,"x":3.925,"y":2.54},{"i":25,"x":3.9305,"y":2.5},
{"i":26,"x":3.875,"y":2.65},{"i":26,"x":3.88,"y":2.68},{"i":26,"x":3.883,"y":2.73},{"i":26,"x":3.886,"y":2.91},{"i":26,"x":3.889,"y":3.18},{"i":26,"x":3.8915,"y":3.43},{"i":26,"x":3.894,"y":3.59},{"i":26,"x":3.8965,"y":3.55},{"i":26,"x":3.899,"y":3.41},{"i":26,"x":3.902,"y":3.22},{"i":26,"x":3.906,"y":3},{"i":26,"x":3.911,"y":2.85},{"i":26,"x":3.917,"y":2.74},{"i":26,"x":3.925,"y":2.64},{"i":26,"x":3.9315,"y":2.59},
{"i":27,"x":3.876,"y":2.75},{"i":27,"x":3.88,"y":2.77},{"i":27,"x":3.883,"y":2.82},{"i":27,"x":3.886,"y":3},{"i":27,"x":3.889,"y":3.27},{"i":27,"x":3.8915,"y":3.53},{"i":27,"x":3.894,"y":3.69},{"i":27,"x":3.8965,"y":3.64},{"i":27,"x":3.899,"y":3.5},{"i":27,"x":3.902,"y":3.3},{"i":27,"x":3.906,"y":3.08},{"i":27,"x":3.911,"y":2.93},{"i":27,"x":3.917,"y":2.83},{"i":27,"x":3.925,"y":2.73},{"i":27,"x":3.9325,"y":2.69},
{"i":28,"x":3.877,"y":2.85},{"i":28,"x":3.88,"y":2.87},{"i":28,"x":3.883,"y":2.91},{"i":28,"x":3.886,"y":3.09},{"i":28,"x":3.889,"y":3.36},{"i":28,"x":3.8915,"y":3.62},{"i":28,"x":3.894,"y":3.79},{"i":28,"x":3.8965,"y":3.74},{"i":28,"x":3.899,"y":3.59},{"i":28,"x":3.902,"y":3.38},{"i":28,"x":3.906,"y":3.15},{"i":28,"x":3.911,"y":3.01},{"i":28,"x":3.917,"y":2.91},{"i":28,"x":3.925,"y":2.83},{"i":28,"x":3.9335,"y":2.79},
{"i":29,"x":3.878,"y":2.95},{"i":29,"x":3.88,"y":2.96},{"i":29,"x":3.883,"y":3},{"i":29,"x":3.886,"y":3.18},{"i":29,"x":3.889,"y":3.45},{"i":29,"x":3.8915,"y":3.71},{"i":29,"x":3.894,"y":3.89},{"i":29,"x":3.8965,"y":3.84},{"i":29,"x":3.899,"y":3.68},{"i":29,"x":3.902,"y":3.45},{"i":29,"x":3.906,"y":3.23},{"i":29,"x":3.911,"y":3.09},{"i":29,"x":3.917,"y":3},{"i":29,"x":3.925,"y":2.92},{"i":29,"x":3.934,"y":2.89},
{"i":30,"x":3.879,"y":3.05},{"i":30,"x":3.883,"y":3.09},{"i":30,"x":3.886,"y":3.27},{"i":30,"x":3.889,"y":3.54},{"i":30,"x":3.8915,"y":3.81},{"i":30,"x":3.894,"y":3.99},{"i":30,"x":3.8965,"y":3.93},{"i":30,"x":3.899,"y":3.77},{"i":30,"x":3.902,"y":3.53},{"i":30,"x":3.906,"y":3.3},{"i":30,"x":3.911,"y":3.17},{"i":30,"x":3.917,"y":3.08},{"i":30,"x":3.925,"y":3.01},{"i":30,"x":3.934,"y":2.98},
{"i":31,"x":3.88,"y":3.14},{"i":31,"x":3.883,"y":3.18},{"i":31,"x":3.886,"y":3.36},{"i":31,"x":3.889,"y":3.63},{"i":31,"x":3.8915,"y":3.9},{"i":31,"x":3.894,"y":4.09},{"i":31,"x":3.8965,"y":4.03},{"i":31,"x":3.899,"y":3.86},{"i":31,"x":3.902,"y":3.61},{"i":31,"x":3.906,"y":3.38},{"i":31,"x":3.911,"y":3.25},{"i":31,"x":3.917,"y":3.17},{"i":31,"x":3.925,"y":3.11},{"i":31,"x":3.934,"y":3.08},
{"i":32,"x":3.881,"y":3.24},{"i":32,"x":3.883,"y":3.27},{"i":32,"x":3.886,"y":3.44},{"i":32,"x":3.889,"y":3.72},{"i":32,"x":3.8915,"y":3.99},{"i":32,"x":3.894,"y":4.18},{"i":32,"x":3.8965,"y":4.13},{"i":32,"x":3.899,"y":3.94},{"i":32,"x":3.902,"y":3.69},{"i":32,"x":3.906,"y":3.45},{"i":32,"x":3.911,"y":3.33},{"i":32,"x":3.917,"y":3.25},{"i":32,"x":3.925,"y":3.2},{"i":32,"x":3.934,"y":3.18},
{"i":33,"x":3.882,"y":3.35},{"i":33,"x":3.886,"y":3.53},{"i":33,"x":3.889,"y":3.81},{"i":33,"x":3.8915,"y":4.09},{"i":33,"x":3.894,"y":4.28},{"i":33,"x":3.8965,"y":4.22},{"i":33,"x":3.899,"y":4.03},{"i":33,"x":3.902,"y":3.77},{"i":33,"x":3.906,"y":3.53},{"i":33,"x":3.911,"y":3.41},{"i":33,"x":3.917,"y":3.34},{"i":33,"x":3.925,"y":3.3},{"i":33,"x":3.934,"y":3.28},
{"i":34,"x":3.883,"y":3.45},{"i":34,"x":3.886,"y":3.62},{"i":34,"x":3.889,"y":3.9},{"i":34,"x":3.8915,"y":4.18},{"i":34,"x":3.894,"y":4.38},{"i":34,"x":3.8965,"y":4.32},{"i":34,"x":3.899,"y":4.12},{"i":34,"x":3.902,"y":3.85},{"i":34,"x":3.906,"y":3.6},{"i":34,"x":3.911,"y":3.49},{"i":34,"x":3.917,"y":3.42},{"i":34,"x":3.925,"y":3.39},{"i":34,"x":3.934,"y":3.375}
],
"C":[
{"e":18.4745,"v":0},{"e":18.49,"v":0},{"e":18.498,"v":0.005},{"e":18.502,"v":0.015},{"e":18.504,"v":0.03},{"e":18.5057,"v":0.06},{"e":18.5078,"v":0.13},{"e":18.5099,"v":0.35},{"e":18.512,"v":0.62},{"e":18.514,"v":0.92},{"e":18.5162,"v":1.15},{"e":18.5183,"v":1.37},{"e":18.5199,"v":1.44},{"e":18.5214,"v":1.41},{"e":18.523,"v":1.33},{"e":18.5246,"v":1.26},{"e":18.5262,"v":1.19},{"e":18.5277,"v":1.13},{"e":18.5294,"v":1.07}
],
"T":[
{"i":0,"e":18.4767,"a":0.03,"b":0.145},{"i":1,"e":18.4777,"a":0.03,"b":0.145},{"i":2,"e":18.4787,"a":0.03,"b":0.145},{"i":3,"e":18.4797,"a":0.03,"b":0.145},{"i":4,"e":18.4807,"a":0.03,"b":0.145},{"i":5,"e":18.4817,"a":0.03,"b":0.145},{"i":6,"e":18.4827,"a":0.03,"b":0.145},{"i":7,"e":18.4837,"a":0.03,"b":0.145},{"i":8,"e":18.4847,"a":0.03,"b":0.145},{"i":9,"e":18.4857,"a":0.03,"b":0.145},{"i":10,"e":18.4867,"a":0.03,"b":0.145},{"i":11,"e":18.4877,"a":0.03,"b":0.145},{"i":12,"e":18.4887,"a":0.03,"b":0.145},{"i":13,"e":18.4897,"a":0.03,"b":0.145},{"i":14,"e":18.4907,"a":0.03,"b":0.145},{"i":15,"e":18.4917,"a":0.03,"b":0.145},{"i":16,"e":18.4927,"a":0.03,"b":0.145},{"i":17,"e":18.4937,"a":0.03,"b":0.145},{"i":18,"e":18.4947,"a":0.03,"b":0.145},{"i":19,"e":18.4957,"a":0.03,"b":0.145},{"i":20,"e":18.4967,"a":0.03,"b":0.145},{"i":21,"e":18.4977,"a":0.03,"b":0.145},{"i":22,"e":18.4987,"a":0.03,"b":0.145},{"i":23,"e":18.4997,"a":0.03,"b":0.145},{"i":24,"e":18.5007,"a":0.03,"b":0.145},{"i":25,"e":18.5017,"a":0.03,"b":0.15},{"i":26,"e":18.5027,"a":0.03,"b":0.155},{"i":27,"e":18.5037,"a":0.035,"b":0.16},{"i":28,"e":18.5047,"a":0.04,"b":0.17},{"i":29,"e":18.5057,"a":0.05,"b":0.18},{"i":30,"e":18.5067,"a":0.07,"b":0.2},{"i":31,"e":18.5077,"a":0.1,"b":0.24},{"i":32,"e":18.5087,"a":0.17,"b":0.31},{"i":33,"e":18.5097,"a":0.26,"b":0.42},{"i":34,"e":18.5107,"a":0.4,"b":0.7}
]
},
"hconcat":[
{
"width":275,"height":542,
"layer":[
{"layer":[
{"data":{"name":"L"},"mark":{"type":"line","strokeWidth":1},
"encoding":{
"x":{"field":"x","type":"quantitative","scale":{"domain":[3.84,3.934],"nice":false,"zero":false},"axis":{"values":[3.84,3.86,3.88,3.9,3.92],"format":"~g","title":"Transfer energy, E₁−E₂ (keV)","labelPadding":14}},
"y":{"field":"y","type":"quantitative","scale":{"domain":[0,4.52],"nice":false,"zero":false},"axis":{"values":[0,0.5,1,1.5,2,2.5,3,3.5,4],"format":"~g","labelExpr":"datum.value <= 2.5 ? datum.label : ''","title":"Normalized Intensity (arb. units)","labelPadding":12,"titleX":-50,"titleY":326,"titleBaseline":"middle"}},
"color":{"field":"i","type":"quantitative","legend":null,"scale":{"domain":[0,4,5,13,14,21,22,23,30,31,34],"range":["#000071","#0000e3","#001cff","#00ffff","#1cffff","#e3ff39","#ffff1c","#ffe300","#ff1c00","#ff0000","#aa0000"],"interpolate":"rgb"}},
"detail":{"field":"i","type":"nominal"}}},
{"data":{"values":[{}]},"mark":{"type":"rule","color":"black","strokeWidth":1},"encoding":{"x":{"datum":3.8555},"y":{"datum":0.03},"y2":{"datum":2.2}}},
{"data":{"values":[{}]},"mark":{"type":"point","shape":"M0,-1L0.7,0.9L0,0.5L-0.7,0.9Z","filled":true,"color":"black","opacity":1,"size":400},"encoding":{"x":{"datum":3.8555},"y":{"datum":2.217}}},
{"data":{"values":[{}]},"mark":{"type":"text","text":"Incident Energy, E₁","angle":270,"fontSize":20,"align":"center","baseline":"middle"},"encoding":{"x":{"datum":3.8466},"y":{"datum":1.36}}},
{"data":{"values":[{}]},"mark":{"type":"text","text":"Am I","fontSize":20,"align":"center","baseline":"alphabetic"},"encoding":{"x":{"datum":3.919},"y":{"datum":4.33}}},
{"data":{"values":[{}]},"mark":{"type":"text","text":"(4 GPa)","fontSize":20,"align":"center","baseline":"alphabetic"},"encoding":{"x":{"datum":3.919},"y":{"datum":4.13}}}
]},
{"layer":[
{"data":{"values":[{}]},"mark":{"type":"rect","fill":"white","stroke":"black","strokeWidth":1},
"encoding":{
"x":{"datum":18.4745,"type":"quantitative","scale":{"domain":[18.4745,18.5295],"range":[-43,131],"nice":false,"zero":false},"axis":{"orient":"bottom","offset":-401,"values":[18.48,18.5,18.52],"format":"~g","title":"E₁ (keV)","labelPadding":10,"titlePadding":2,"zindex":2}},
"x2":{"datum":18.5295},
"y":{"datum":-0.19,"type":"quantitative","scale":{"domain":[-0.19,1.5],"range":[141,0],"nice":false,"zero":false},"axis":{"orient":"left","offset":43,"values":[0,0.5,1,1.5],"format":"~g","title":null,"labelPadding":8,"zindex":2}},
"y2":{"datum":1.5}}},
{"data":{"name":"T"},"mark":{"type":"rule","strokeWidth":1.5},"encoding":{"x":{"field":"e","type":"quantitative"},"y":{"field":"a","type":"quantitative"},"y2":{"field":"b"},"color":{"field":"i","type":"quantitative","legend":null}}},
{"data":{"name":"C"},"mark":{"type":"line","color":"black","strokeWidth":1.6},"encoding":{"x":{"field":"e","type":"quantitative"},"y":{"field":"v","type":"quantitative"}}},
{"data":{"values":[{}]},"mark":{"type":"text","text":"Am","fontSize":19,"align":"left","baseline":"alphabetic"},"encoding":{"x":{"datum":18.4799},"y":{"datum":1.068}}},
{"data":{"values":[{}]},"mark":{"type":"text","text":"L₃ edge","fontSize":19,"align":"left","baseline":"alphabetic"},"encoding":{"x":{"datum":18.4799},"y":{"datum":0.817}}}
]}
],
"resolve":{"scale":{"x":"independent","y":"independent"}}
},
{
"width":275,"height":542,
"layer":[
{"data":{"name":"R"},"mark":{"type":"line","strokeWidth":1},
"encoding":{
"x":{"field":"x","type":"quantitative","scale":{"domain":[3.84,3.934],"nice":false,"zero":false},"axis":{"values":[3.84,3.86,3.88,3.9,3.92],"format":"~g","title":"Transfer energy, E₁−E₂ (keV)","labelPadding":14}},
"y":{"field":"y","type":"quantitative","scale":{"domain":[0,4.52],"nice":false,"zero":false},"axis":{"values":[0,0.5,1,1.5,2,2.5,3,3.5,4],"labels":false,"title":null}},
"color":{"field":"i","type":"quantitative","legend":null,"scale":{"domain":[0,4,5,13,14,21,22,23,30,31,34],"range":["#000071","#0000e3","#001cff","#00ffff","#1cffff","#e3ff39","#ffff1c","#ffe300","#ff1c00","#ff0000","#aa0000"],"interpolate":"rgb"}},
"detail":{"field":"i","type":"nominal"}}},
{"data":{"values":[{}]},"mark":{"type":"text","text":"Am IV","fontSize":20,"align":"center","baseline":"alphabetic"},"encoding":{"x":{"datum":3.9169},"y":{"datum":4.358}}},
{"data":{"values":[{}]},"mark":{"type":"text","text":"(23 GPa)","fontSize":20,"align":"center","baseline":"alphabetic"},"encoding":{"x":{"datum":3.9169},"y":{"datum":4.15}}}
]
}
]
}
